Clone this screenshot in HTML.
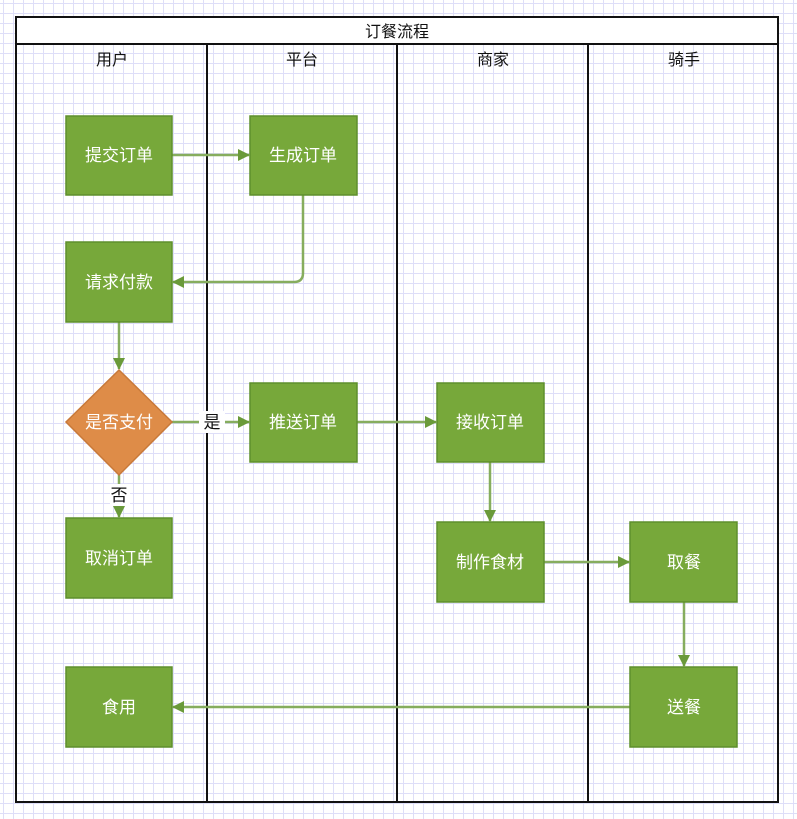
<!DOCTYPE html>
<html><head><meta charset="utf-8"><style>
body{margin:0;width:797px;height:819px;overflow:hidden;background:#fff;
background-image:linear-gradient(#dedef8 1px,transparent 1px),linear-gradient(90deg,#dedef8 1px,transparent 1px);
background-size:10px 10px;background-position:3px 3px;font-family:"Liberation Sans","Noto Sans CJK SC",sans-serif;}
</style></head><body>
<svg width="797" height="819" style="position:absolute;left:0;top:0" font-family="Liberation Sans, Noto Sans CJK SC, sans-serif">
<rect x="16" y="17" width="762" height="785" fill="none" stroke="#111" stroke-width="2"/>
<rect x="16" y="17" width="762" height="27" fill="#fff" stroke="#111" stroke-width="2"/>
<text x="397" y="37" font-size="16" text-anchor="middle" fill="#111">订餐流程</text>
<g stroke="#111" stroke-width="2"><line x1="207" y1="44" x2="207" y2="802"/><line x1="397" y1="44" x2="397" y2="802"/><line x1="588" y1="44" x2="588" y2="802"/></g>
<g font-size="16" text-anchor="middle" fill="#111"><text x="112" y="65">用户</text><text x="302" y="65">平台</text><text x="493" y="65">商家</text><text x="684" y="65">骑手</text></g>
<defs><marker id="a" markerWidth="12" markerHeight="12" refX="11" refY="6" orient="auto" markerUnits="userSpaceOnUse"><path d="M0,0L12,6L0,12z" fill="#6a9a3a"/></marker></defs>
<g stroke="#86ad5e" stroke-width="2.5" fill="none" marker-end="url(#a)">
<line x1="172" y1="155" x2="249" y2="155"/>
<path d="M303,195V273Q303,282 294,282H173"/>
<line x1="119" y1="322" x2="119" y2="369"/>
<line x1="172" y1="422" x2="249" y2="422"/>
<line x1="357" y1="422" x2="436" y2="422"/>
<line x1="119" y1="475" x2="119" y2="517"/>
<line x1="490" y1="462" x2="490" y2="521"/>
<line x1="544" y1="562" x2="629" y2="562"/>
<line x1="684" y1="602" x2="684" y2="666"/>
<line x1="630" y1="707" x2="173" y2="707"/>
</g>
<rect x="199" y="411" width="26" height="22" fill="#fff"/>
<text x="212" y="428" font-size="17" text-anchor="middle" fill="#111">是</text>
<rect x="110" y="484" width="20" height="22" fill="#fff"/>
<text x="119" y="501" font-size="17" text-anchor="middle" fill="#111">否</text>
<g fill="#77a83a" stroke="#5f8f2c" stroke-width="1.5">
<rect x="66" y="116" width="106" height="79"/><rect x="250" y="116" width="107" height="79"/>
<rect x="66" y="242" width="106" height="80"/><rect x="250" y="383" width="107" height="79"/>
<rect x="437" y="383" width="107" height="79"/><rect x="66" y="518" width="106" height="80"/>
<rect x="437" y="522" width="107" height="80"/><rect x="630" y="522" width="107" height="80"/>
<rect x="66" y="667" width="106" height="80"/><rect x="630" y="667" width="107" height="80"/>
</g>
<path d="M119,370L172,422L119,475L66,422z" fill="#de8c48" stroke="#c8793a" stroke-width="1.5"/>
<g font-size="17" text-anchor="middle" fill="#fff">
<text x="119" y="161">提交订单</text><text x="303" y="161">生成订单</text>
<text x="119" y="288">请求付款</text><text x="119" y="428">是否支付</text>
<text x="303" y="428">推送订单</text><text x="490" y="428">接收订单</text>
<text x="119" y="564">取消订单</text><text x="490" y="568">制作食材</text>
<text x="684" y="568">取餐</text><text x="119" y="713">食用</text><text x="684" y="713">送餐</text>
</g>
</svg>
</body></html>
